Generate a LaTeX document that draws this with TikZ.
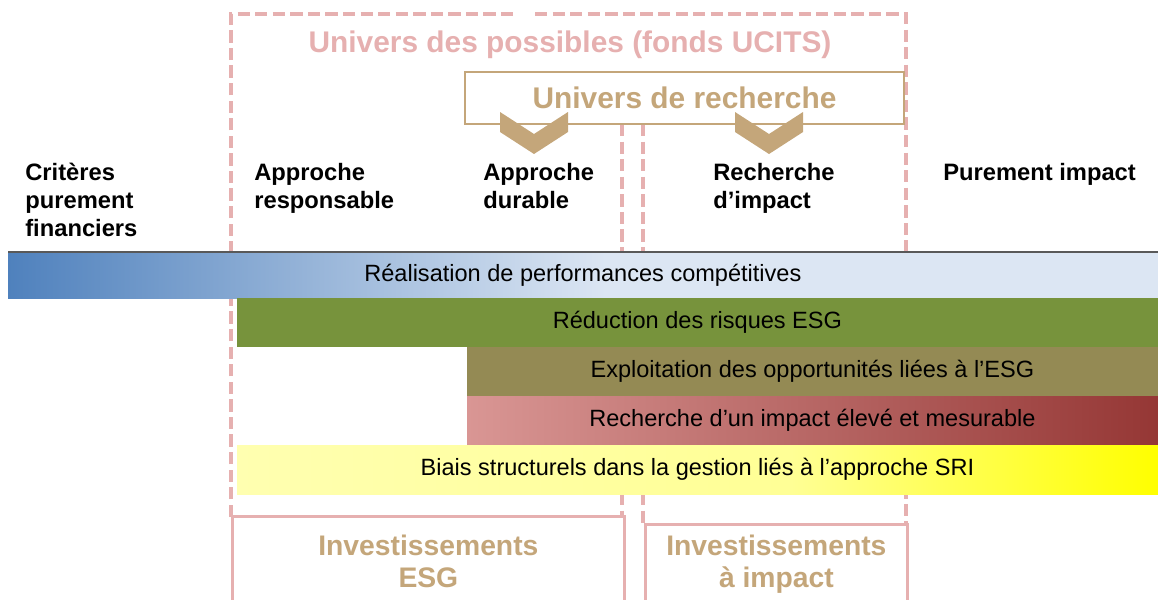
\documentclass[tikz,border=0pt]{standalone}
\usepackage{fontspec}
\setmainfont{Liberation Sans}
\usepackage{xcolor}
\usetikzlibrary{positioning,calc}

\definecolor{pinkline}{RGB}{230,176,176}
\definecolor{tanbrown}{RGB}{196,166,122}
\definecolor{blueDark}{RGB}{79,129,189}
\definecolor{blueLight}{RGB}{220,230,243}
\definecolor{esggreen}{RGB}{119,147,60}
\definecolor{olivebar}{RGB}{148,138,84}
\definecolor{redLight}{RGB}{217,150,148}
\definecolor{redDark}{RGB}{149,55,53}
\definecolor{ylwPale}{RGB}{255,255,176}
\definecolor{ylwBright}{RGB}{255,255,0}
\definecolor{rulegray}{RGB}{89,89,89}

\pgfdeclarehorizontalshading{bluefade}{100bp}{color(0bp)=(blueDark); color(25bp)=(blueDark); color(51bp)=(blueLight); color(100bp)=(blueLight)}
\pgfdeclarehorizontalshading{yellowfade}{100bp}{color(0bp)=(ylwPale); color(25bp)=(ylwPale); color(55bp)=(ylwPale!85!ylwBright); color(75bp)=(ylwBright); color(100bp)=(ylwBright)}

\begin{document}
\begin{tikzpicture}[
    x=0.02cm, y=-0.02cm,
    pinkdash/.style={draw=pinkline, line width=2.2pt, dash pattern=on 7pt off 3pt},
    head/.style={anchor=north west, inner sep=0pt, align=left, font=\bfseries\fontsize{13.5}{15.9}\selectfont},
    bar/.style={anchor=north west, inner sep=0pt, outer sep=0pt, minimum height=0.98cm, font=\fontsize{13.4}{16}\selectfont},
    invbox/.style={anchor=north west, draw=pinkline, line width=1.6pt, fill=white, align=center, inner sep=0pt, text=tanbrown, font=\bfseries\fontsize{16.1}{18.2}\selectfont}
]
    \useasboundingbox (0,0) rectangle (1158,599);

    % dashed universe outlines
    \draw[pinkdash] (231,517) -- (231,14) -- (517,14);
    \draw[pinkdash] (535,14) -- (906,14) -- (906,523);
    \draw[pinkdash] (622,124) -- (622,517);
    \draw[pinkdash] (643,124) -- (643,523);

    \node[text=pinkline, font=\bfseries\fontsize{17}{20}\selectfont] (possibles) at (570,45) {Univers des possibles (fonds UCITS)};
    \node[draw=tanbrown, line width=1.2pt, fill=white, minimum width=8.78cm, minimum height=1.04cm, text=tanbrown, font=\bfseries\fontsize{17}{20}\selectfont] (recherche) at (684.5,98) {Univers de recherche};
    \foreach \cx in {534,769}
        \fill[tanbrown] (\cx-34,112) -- (\cx,134) -- (\cx+34,112) -- (\cx+34,132) -- (\cx,154) -- (\cx-34,132) -- cycle;

    % column headings
    \node[head] (fin) at (25,163) {Critères\\purement\\financiers};
    \node[head] (resp) at (254,163) {Approche\\responsable};
    \node[head] (dur) at (483,163) {Approche\\durable};
    \node[head] (imp) at (713,163) {Recherche\\d’impact};
    \node[head] (pur) at (943,163) {Purement impact};

    % bars
    \node[bar, minimum width=23cm, minimum height=0.92cm, shading=bluefade] (perf) at (8,252) {Réalisation de performances compétitives};
    \node[bar, minimum width=18.42cm, fill=esggreen] (risk) at (237,298) {Réduction des risques ESG};
    \node[bar, minimum width=13.82cm, fill=olivebar] (oppo) at (467,347) {Exploitation des opportunités liées à l'ESG};
    \node[bar, minimum width=13.82cm, left color=redLight, right color=redDark] (impact) at (467,396) {Recherche d’un impact élevé et mesurable};
    \node[bar, minimum width=18.42cm, shading=yellowfade] (biais) at (237,445) {Biais structurels dans la gestion liés à l’approche SRI};
    \draw[rulegray, line width=1.5pt] (perf.north west) -- (perf.north east);

    % bottom labels
    \node[invbox, minimum width=7.84cm, minimum height=1.8cm] (esg) at (231,515) {Investissements\\ESG};
    \node[invbox, minimum width=5.24cm, minimum height=1.6cm] (aimpact) at (644,523) {Investissements\\à impact};
\end{tikzpicture}
\end{document}
